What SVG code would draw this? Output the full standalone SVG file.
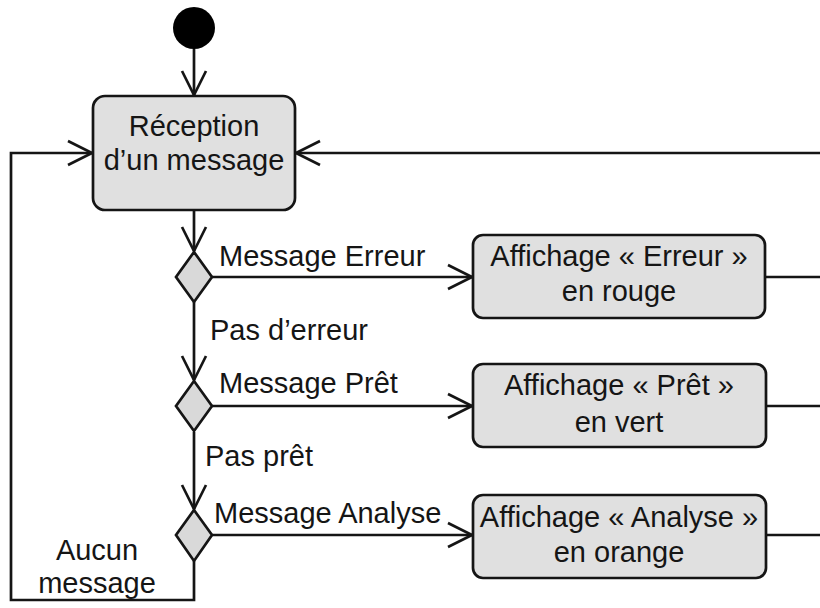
<svg xmlns="http://www.w3.org/2000/svg" width="820" height="608" viewBox="0 0 820 608">
<defs>
<style>
text{font-family:"Liberation Sans",Arial,sans-serif;font-size:29px;fill:#151515}
.c{text-anchor:middle}
.box{fill:#e0e0e0;stroke:#151515;stroke-width:2.7}
.dia{fill:#d9d9d9;stroke:#151515;stroke-width:2.7}
.ln{fill:none;stroke:#151515;stroke-width:2.7}
</style>
<marker id="arr" markerUnits="userSpaceOnUse" markerWidth="30" markerHeight="30" viewBox="-27 -15 30 30" refX="0" refY="0" orient="auto">
<path d="M-24,-12 L0,0 L-24,12" fill="none" stroke="#151515" stroke-width="2.7"/>
</marker>
</defs>
<rect width="820" height="608" fill="#fff"/>
<g id="connectors">
<path class="ln" d="M194,49 V95" marker-end="url(#arr)"/>
<path class="ln" d="M194,210 V251" marker-end="url(#arr)"/>
<path class="ln" d="M194,302 V380" marker-end="url(#arr)"/>
<path class="ln" d="M194,432 V509" marker-end="url(#arr)"/>
<path class="ln" d="M212,277 H472" marker-end="url(#arr)"/>
<path class="ln" d="M212,406 H472" marker-end="url(#arr)"/>
<path class="ln" d="M212,535 H472" marker-end="url(#arr)"/>
<path class="ln" d="M194,561 V600 H11 V153 H92" marker-end="url(#arr)"/>
<path class="ln" d="M765,277 H824 V153 H296" marker-end="url(#arr)"/>
<path class="ln" d="M766,406 H824 V277"/>
<path class="ln" d="M766,535 H824 V406"/>
<text x="219" y="266">Message Erreur</text>
<text x="210" y="340">Pas d’erreur</text>
<text x="219" y="393">Message Prêt</text>
<text x="205" y="466">Pas prêt</text>
<text x="214" y="523">Message Analyse</text>
<text class="c" x="97" y="560">Aucun</text>
<text class="c" x="97" y="593">message</text>
</g>
<g id="start"><circle cx="194" cy="28" r="21" fill="#000"/></g>
<g id="reception">
<rect class="box" x="93" y="96" width="202" height="114" rx="12"/>
<text class="c" x="194" y="136">Réception</text>
<text class="c" x="194" y="170">d’un message</text>
</g>
<g id="d1"><path class="dia" d="M194,252 L212,277 L194,302 L176,277 Z"/></g>
<g id="d2"><path class="dia" d="M194,381 L212,406 L194,431 L176,406 Z"/></g>
<g id="d3"><path class="dia" d="M194,510 L212,535 L194,561 L176,535 Z"/></g>
<g id="erreur">
<rect class="box" x="473" y="235" width="292" height="83" rx="10"/>
<text class="c" x="619" y="266">Affichage « Erreur »</text>
<text class="c" x="619" y="301">en rouge</text>
</g>
<g id="pret">
<rect class="box" x="473" y="364" width="293" height="83" rx="10"/>
<text class="c" x="619" y="395">Affichage « Prêt »</text>
<text class="c" x="619" y="432">en vert</text>
</g>
<g id="analyse">
<rect class="box" x="473" y="495" width="293" height="83" rx="10"/>
<text class="c" x="619" y="527">Affichage « Analyse »</text>
<text class="c" x="619" y="562">en orange</text>
</g>
</svg>
